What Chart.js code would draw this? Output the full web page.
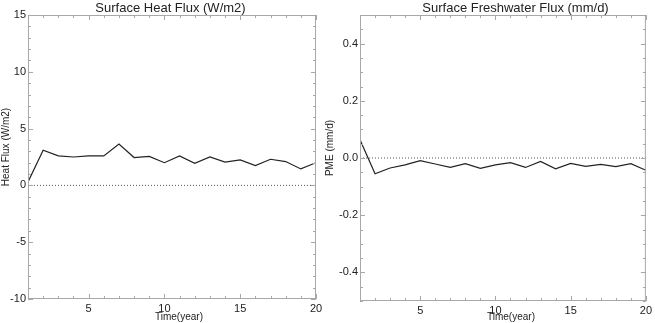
<!DOCTYPE html>
<html>
<head>
<meta charset="utf-8">
<script src="https://cdn.jsdelivr.net/npm/chart.js@4.4.1/dist/chart.umd.min.js"></script>
<style>
  body { margin: 0; background: #fff; width: 655px; height: 323px; position: relative; overflow: hidden; }
  canvas { position: absolute; top: 0; }
  #heatChart { left: 0; }
  #pmeChart { left: 324px; }
</style>
</head>
<body>
<canvas id="heatChart" width="327" height="323"></canvas>
<canvas id="pmeChart" width="331" height="323"></canvas>
<script>
// ===== data =====
const years = [1, 2, 3, 4, 5, 6, 7, 8, 9, 10, 11, 12, 13, 14, 15, 16, 17, 18, 19, 20];
const heatFlux = [0.3, 3.1, 2.6, 2.5, 2.6, 2.6, 3.65, 2.45, 2.55, 2.0, 2.6, 1.95, 2.5, 2.05, 2.25, 1.75, 2.3, 2.1, 1.45, 2.0];
const pme = [0.064, -0.055, -0.035, -0.024, -0.009, -0.021, -0.033, -0.020, -0.036, -0.024, -0.016, -0.033, -0.012, -0.038, -0.019, -0.029, -0.022, -0.030, -0.020, -0.043];
const xTicks = [5, 10, 15, 20];
const heatTicks = [-10, -5, 0, 5, 10, 15];
const pmeTicks = [-0.4, -0.2, 0.0, 0.2, 0.4];

const FONT = '"Liberation Sans", Arial, Helvetica, sans-serif';
const FRAME = '#a8a8a8';
const INK = '#222';

// frame with inward tick marks, IDL style
const framePlugin = {
  id: 'frame',
  afterDatasetsDraw(chart, args, o) {
    const { ctx, chartArea: a, scales } = chart;
    const xs = scales.x, ys = scales.y;
    ctx.save();
    ctx.strokeStyle = FRAME;
    ctx.lineWidth = 1;
    ctx.strokeRect(a.left + 0.5, a.top + 0.5, a.right - a.left - 1, a.bottom - a.top - 1);
    ctx.beginPath();
    for (let v = xs.min; v <= xs.max + 1e-9; v += o.xMinor) {
      const len = Math.abs(v / o.xMajor - Math.round(v / o.xMajor)) < 1e-6 ? 5 : 3;
      const px = Math.round(xs.getPixelForValue(v)) + 0.5;
      ctx.moveTo(px, a.bottom); ctx.lineTo(px, a.bottom - len);
      ctx.moveTo(px, a.top); ctx.lineTo(px, a.top + len);
    }
    for (let v = ys.min; v <= ys.max + 1e-9; v += o.yMinor) {
      const len = Math.abs(v / o.yMajor - Math.round(v / o.yMajor)) < 1e-6 ? 5 : 3;
      const py = Math.round(ys.getPixelForValue(v)) + 0.5;
      ctx.moveTo(a.left, py); ctx.lineTo(a.left + len, py);
      ctx.moveTo(a.right, py); ctx.lineTo(a.right - len, py);
    }
    ctx.stroke();
    ctx.restore();
  }
};

// titles placed where the original plot puts them
const axisTitlePlugin = {
  id: 'axisTitles',
  afterDraw(chart, args, o) {
    const ctx = chart.ctx;
    ctx.save();
    ctx.fillStyle = INK;
    ctx.textAlign = 'center';
    ctx.textBaseline = 'middle';
    ctx.font = '13px ' + FONT;
    ctx.fillText(o.title, o.titlePos[0], o.titlePos[1]);
    ctx.font = '10px ' + FONT;
    ctx.fillText(o.xTitle, o.xPos[0], o.xPos[1]);
    ctx.translate(o.yPos[0], o.yPos[1]);
    ctx.rotate(-Math.PI / 2);
    ctx.fillText(o.yTitle, 0, 0);
    ctx.restore();
  }
};

function makePanel(id, cfg) {
  return new Chart(document.getElementById(id), {
    type: 'line',
    data: {
      datasets: [
        {
          data: years.map((y, i) => ({ x: y, y: cfg.values[i] })),
          borderColor: INK,
          borderWidth: 1.2,
          pointRadius: 0,
          tension: 0,
        },
        {
          data: [{ x: years[0], y: 0 }, { x: years[years.length - 1], y: 0 }],
          borderColor: '#555',
          borderWidth: 1,
          borderDash: [1, 2],
          pointRadius: 0,
        }
      ]
    },
    options: {
      responsive: false,
      animation: false,
      layout: { padding: { top: 15, left: 0, right: cfg.padRight, bottom: 0 } },
      plugins: {
        legend: { display: false },
        tooltip: { enabled: false },
        title: { display: false },
        frame: { xMinor: 1, xMajor: 5, yMinor: cfg.yMinor, yMajor: cfg.yMajor },
        axisTitles: cfg.titles,
      },
      scales: {
        x: {
          type: 'linear',
          min: years[0],
          max: years[years.length - 1],
          grid: { display: false, drawTicks: false },
          border: { display: false },
          afterBuildTicks: s => { s.ticks = xTicks.map(v => ({ value: v })); },
          afterFit: s => { s.height = cfg.xHeight; },
          ticks: { color: INK, padding: 3, maxRotation: 0, autoSkip: false, font: { family: FONT, size: 11 } },
        },
        y: {
          min: cfg.yMin,
          max: cfg.yMax,
          grid: { display: false, drawTicks: false },
          border: { display: false },
          afterBuildTicks: s => { s.ticks = cfg.yTicks.map(v => ({ value: v })); },
          afterFit: s => { s.width = cfg.yWidth; },
          ticks: { color: INK, padding: 2, autoSkip: false, font: { family: FONT, size: 11 }, callback: cfg.fmt },
        }
      }
    },
    plugins: [framePlugin, axisTitlePlugin]
  });
}

makePanel('heatChart', {
  values: heatFlux,
  yMin: -10, yMax: 15, yTicks: heatTicks, yMinor: 1, yMajor: 5,
  fmt: v => String(v),
  yWidth: 28, xHeight: 24, padRight: 11,
  titles: {
    title: 'Surface Heat Flux (W/m2)', titlePos: [170.5, 8],
    xTitle: 'Time(year)', xPos: [179, 317],
    yTitle: 'Heat Flux (W/m2)', yPos: [6, 147],
  },
});

makePanel('pmeChart', {
  values: pme,
  yMin: -0.5, yMax: 0.5, yTicks: pmeTicks, yMinor: 0.05, yMajor: 0.2,
  fmt: v => v.toFixed(1),
  yWidth: 36, xHeight: 22, padRight: 7,
  titles: {
    title: 'Surface Freshwater Flux (mm/d)', titlePos: [191.5, 8],
    xTitle: 'Time(year)', xPos: [187, 317],
    yTitle: 'PME (mm/d)', yPos: [6, 148],
  },
});
</script>
</body>
</html>
